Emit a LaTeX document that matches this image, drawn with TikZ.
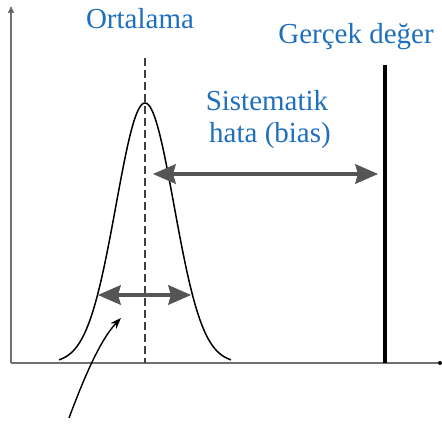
\documentclass[tikz,border=0pt]{standalone}
\usepackage{fontspec}
\setmainfont{Liberation Serif}
\usetikzlibrary{arrows.meta}
\definecolor{lblblue}{HTML}{1F6FBF}
\definecolor{axgray}{HTML}{707070}
\definecolor{arrgray}{HTML}{555555}
\begin{document}
\begin{tikzpicture}[x={(1pt,0)},y={(0,-1pt)},
  lbl/.style={text=lblblue,font=\fontsize{29}{32}\selectfont,inner sep=0pt},
  axis/.style={draw=axgray,line width=1.6pt},
  dblarrow/.style={draw=arrgray,line width=3.5pt,
    {Stealth[length=23pt,width=20pt,inset=3pt,fill=arrgray,line width=1pt]}-{Stealth[length=23pt,width=20pt,inset=3pt,fill=arrgray,line width=1pt]}},
  meanline/.style={draw=black!75,line width=1.3pt,dash pattern=on 8pt off 4pt},
  truevalue/.style={draw=black,line width=3.5pt},
  curve/.style={draw=black,line width=1.5pt},
  pointer/.style={draw=black,line width=1.4pt,-{Stealth[length=11pt,width=8pt]}}]
\useasboundingbox (0,0) rectangle (442,427);
% coordinates
\coordinate (O) at (11,363);
\coordinate (ytop) at (11,6);
\coordinate (xend) at (440,363);
\coordinate (mtop) at (145,58);
\coordinate (mbot) at (145,363);
\coordinate (ttop) at (385,65);
\coordinate (tbot) at (385,363);
\coordinate (b1) at (153,174);
\coordinate (b2) at (378,174);
\coordinate (w1) at (98,295);
\coordinate (w2) at (191,295);
\coordinate (p1) at (69,418);
\coordinate (p2) at (121,318);
% axes
\draw[axis,-{Triangle[length=7pt,width=6pt,fill=black]}] (O) -- (ytop);
\draw[axis] (O) -- (xend);
\fill[black] (xend) circle (2pt);
% mean line
\draw[meanline] (mtop) -- (mbot);
% gaussian
\draw[curve] plot[domain=-86:86,samples=120] ({145+\x},{363-260*exp(-(\x*\x)/1682)});
% true value
\draw[truevalue] (ttop) -- (tbot);
% arrows
\draw[dblarrow] (b1) -- (b2);
\draw[dblarrow] (w1) -- (w2);
\draw[pointer] (p1) .. controls (84,378) and (100,340) .. (p2);
% labels
\node[lbl] (ort) at (140,19) {Ortalama};
\node[lbl] (ger) at (356,37) {Gerçek değer};
\node[lbl] (sis) at (267,101) {Sistematik};
\node[lbl] (hata) at (270,136) {hata (bias)};
\end{tikzpicture}
\end{document}
